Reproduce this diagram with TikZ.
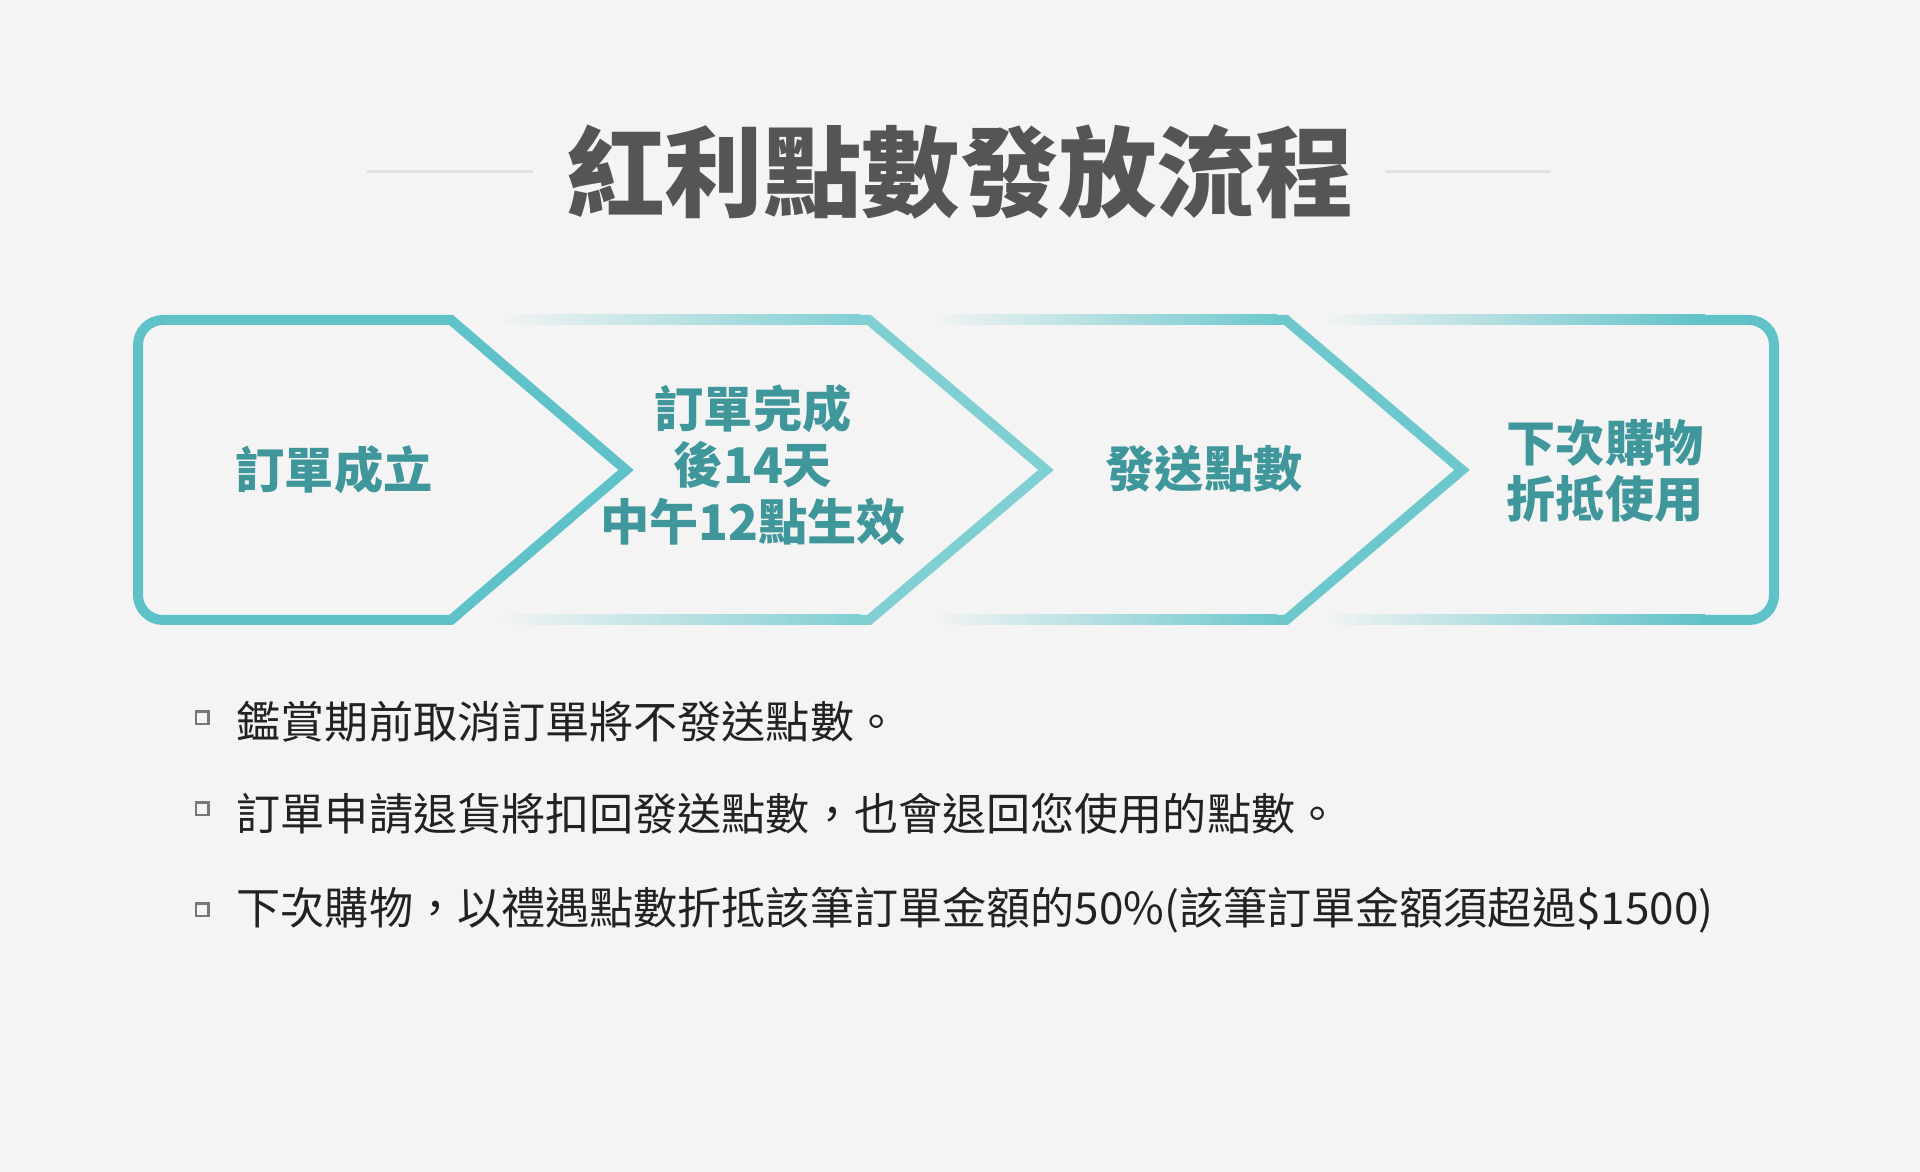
\documentclass[tikz,border=0pt]{standalone}
\usepackage{fontspec}
\newfontfamily\cjk{Noto Sans CJK TC}
\usetikzlibrary{positioning}

\definecolor{pagebg}{HTML}{F4F4F4}
\definecolor{rulegray}{HTML}{E2E2E2}
\definecolor{titlegray}{HTML}{555555}
\definecolor{edgeA}{HTML}{5FC2C8}
\definecolor{edgeB}{HTML}{80CFD3}
\definecolor{edgeC}{HTML}{6DC8CD}
\definecolor{labelteal}{HTML}{3F979B}
\definecolor{bulletgray}{HTML}{777777}
\definecolor{notegray}{HTML}{222222}

\begin{document}
\begin{tikzpicture}[x=0.1mm, y=-0.1mm,
	edge/.style={line width=1mm, line join=miter},
	steplabel/.style={align=center, text=labelteal, inner sep=0pt, font=\cjk\bfseries\fontsize{14}{16}\selectfont},
	notebox/.style={shape=rectangle, draw=bulletgray, line width=0.25mm, minimum width=1.25mm, minimum height=1.25mm, inner sep=0pt},
	notetext/.style={anchor=west, text=notegray, inner sep=0pt, font=\cjk\fontsize{12.55}{14}\selectfont}]
	\fill[pagebg] (0,0) rectangle (1920,1172);
	% title and side rules
	\node[text=titlegray, inner sep=0pt, font=\cjk\bfseries\fontsize{28}{30}\selectfont] (T) at (960,172) {紅利點數發放流程};
	\draw[rulegray, line width=0.3mm] (367,172) -- (533,172);
	\draw[rulegray, line width=0.3mm] (1386,172) -- (1551,172);
	% first step, solid
	\draw[edgeA, edge] (626,470) -- (451,320) [rounded corners=2.5mm] -- (138,320) -- (138,620) [sharp corners] -- (451,620) -- cycle;
	% faded strips
	\shade[left color=pagebg, right color=edgeB] (496,315) rectangle (860,325);
	\shade[left color=pagebg, right color=edgeB] (496,615) rectangle (860,625);
	\shade[left color=pagebg, right color=edgeC] (931,315) rectangle (1277,325);
	\shade[left color=pagebg, right color=edgeC] (931,615) rectangle (1277,625);
	\shade[left color=pagebg, right color=edgeA] (1322,315) rectangle (1705,325);
	\shade[left color=pagebg, right color=edgeA] (1322,615) rectangle (1705,625);
	% chevrons and end
	\draw[edgeB, edge] (858,320) -- (869,320) -- (1046,470) -- (869,620) -- (858,620);
	\draw[edgeC, edge] (1275,320) -- (1286,320) -- (1462,470) -- (1286,620) -- (1275,620);
	\draw[edgeA, edge, rounded corners=2.5mm] (1700,320) -- (1774,320) -- (1774,620) -- (1700,620);
	% step labels
	\node[steplabel] (S1) at (334,470) {訂單成立};
	\node[steplabel] (S2) at (753,465) {訂單完成\\後14天\\中午12點生效};
	\node[steplabel] (S3) at (1204,469) {發送點數};
	\node[steplabel] (S4) at (1605,471) {下次購物\\折抵使用};
	% notes
	\node[notebox] (B1) at (202,718) {};
	\node[notebox] (B2) at (202,809) {};
	\node[notebox] (B3) at (202,910) {};
	\node[notetext] (L1) at (236,722) {鑑賞期前取消訂單將不發送點數。};
	\node[notetext] (L2) at (236,814) {訂單申請退貨將扣回發送點數，也會退回您使用的點數。};
	\node[notetext] (L3) at (236,910) {下次購物，以禮遇點數折抵該筆訂單金額的50\%(該筆訂單金額須超過\$1500)};
\end{tikzpicture}
\end{document}
